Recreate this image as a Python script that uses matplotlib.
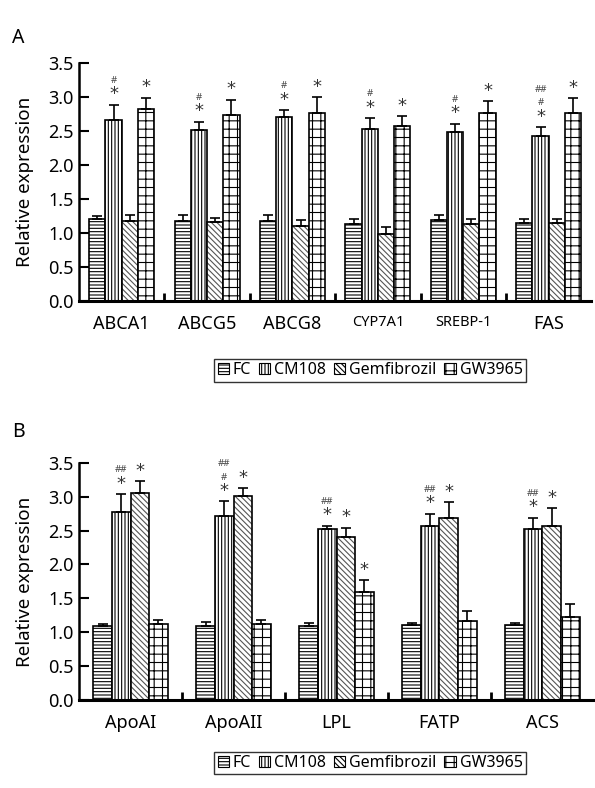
import matplotlib.pyplot as plt
import numpy as np

plt.rcParams['font.family'] = ['Noto Sans', 'DejaVu Sans']
plt.rcParams['hatch.linewidth'] = 0.8

groups = ['FC', 'CM108', 'Gemfibrozil', 'GW3965']
hatches = ['-----', '|||||', '\\\\\\\\\\\\', '++']
hatch_colors = ['black', 'black', '#555555', 'black']

# Panel A
genes_a = ['ABCA1', 'ABCG5', 'ABCG8', 'CYP7A1', 'SREBP-1', 'FAS']
vals_a = {
    'FC':          [1.21, 1.18, 1.18, 1.13, 1.19, 1.15],
    'CM108':       [2.66, 2.51, 2.70, 2.53, 2.49, 2.42],
    'Gemfibrozil': [1.18, 1.16, 1.11, 0.98, 1.14, 1.15],
    'GW3965':      [2.82, 2.74, 2.76, 2.57, 2.76, 2.76],
}
err_a = {
    'FC':          [0.04, 0.09, 0.09, 0.08, 0.08, 0.06],
    'CM108':       [0.23, 0.13, 0.11, 0.16, 0.12, 0.14],
    'Gemfibrozil': [0.09, 0.06, 0.08, 0.11, 0.07, 0.06],
    'GW3965':      [0.17, 0.22, 0.24, 0.15, 0.18, 0.22],
}
# (gene index, group, marks stacked from bottom)
marks_a = [
    (0, 'CM108', ['*', '#']), (0, 'GW3965', ['*']),
    (1, 'CM108', ['*', '#']), (1, 'GW3965', ['*']),
    (2, 'CM108', ['*', '#']), (2, 'GW3965', ['*']),
    (3, 'CM108', ['*', '#']), (3, 'GW3965', ['*']),
    (4, 'CM108', ['*', '#']), (4, 'GW3965', ['*']),
    (5, 'CM108', ['*', '#', '##']), (5, 'GW3965', ['*']),
]

# Panel B
genes_b = ['ApoAI', 'ApoAII', 'LPL', 'FATP', 'ACS']
vals_b = {
    'FC':          [1.09, 1.09, 1.09, 1.10, 1.10],
    'CM108':       [2.77, 2.71, 2.52, 2.57, 2.53],
    'Gemfibrozil': [3.05, 3.01, 2.40, 2.69, 2.57],
    'GW3965':      [1.12, 1.12, 1.59, 1.16, 1.22],
}
err_b = {
    'FC':          [0.03, 0.06, 0.05, 0.04, 0.04],
    'CM108':       [0.27, 0.22, 0.05, 0.18, 0.16],
    'Gemfibrozil': [0.18, 0.12, 0.14, 0.23, 0.26],
    'GW3965':      [0.06, 0.06, 0.18, 0.16, 0.20],
}
marks_b = [
    (0, 'CM108', ['*', '##']), (0, 'Gemfibrozil', ['*']),
    (1, 'CM108', ['*', '#', '##']), (1, 'Gemfibrozil', ['*']),
    (2, 'CM108', ['*', '##']), (2, 'Gemfibrozil', ['*']), (2, 'GW3965', ['*']),
    (3, 'CM108', ['*', '##']), (3, 'Gemfibrozil', ['*']),
    (4, 'CM108', ['*', '##']), (4, 'Gemfibrozil', ['*']),
]


def draw_panel(ax, genes, vals, errs, marks, width):
    x = np.arange(len(genes))
    handles = []
    for i, g in enumerate(groups):
        pos = x + (i - 1.5) * width
        # hatch layer (colour of hatch follows edgecolor), then black outline
        b = ax.bar(pos, vals[g], width, color='white', edgecolor=hatch_colors[i],
                   linewidth=0, hatch=hatches[i], label=g)
        ax.bar(pos, vals[g], width, fill=False, edgecolor='black', linewidth=1.2)
        ax.errorbar(pos, vals[g], yerr=[np.zeros(len(genes)), errs[g]],
                    fmt='none', ecolor='black', elinewidth=1.2, capsize=3.5,
                    capthick=1.2)
        handles.append(b)
    for gi, g, ms in marks:
        i = groups.index(g)
        px = gi + (i - 1.5) * width
        top = vals[g][gi] + errs[g][gi]
        y = top + 0.02
        for m in ms:
            if m == '*':
                ax.text(px, y, '*', ha='center', va='bottom', fontsize=13,
                        family='DejaVu Sans', color='#333333')
                y += 0.21
            else:
                ax.text(px, y + 0.06, m, ha='center', va='bottom', fontsize=7,
                        color='#444444')
                y += 0.2
    ax.set_xlim(-0.5, len(genes) - 0.5)
    ax.set_ylim(0, 3.5)
    ax.set_yticks(np.arange(0, 3.51, 0.5))
    ax.set_yticklabels([f'{v:.1f}' for v in np.arange(0, 3.51, 0.5)], fontsize=13)
    ax.set_xticks(x)
    ax.set_xticklabels(genes, fontsize=13)
    ax.set_xticks(np.arange(0.5, len(genes) - 0.5, 1), minor=True)
    ax.tick_params(axis='x', which='major', length=0, pad=10)
    ax.tick_params(axis='x', which='minor', direction='in', length=6, width=2)
    ax.tick_params(axis='y', direction='in', length=7, width=1.5, pad=4)
    ax.spines['top'].set_visible(False)
    ax.spines['right'].set_visible(False)
    ax.spines['left'].set_linewidth(1.8)
    ax.spines['bottom'].set_linewidth(2.2)
    ax.set_ylabel('Relative expression', fontsize=13.5, labelpad=10)
    return handles


fig = plt.figure(figsize=(5.95, 7.88), dpi=100)
ax1 = fig.add_axes([0.1328, 0.618, 0.861, 0.302])
ax2 = fig.add_axes([0.1328, 0.1117, 0.8655, 0.301])

h1 = draw_panel(ax1, genes_a, vals_a, err_a, marks_a, 0.19)
for lab in ax1.get_xticklabels():
    if lab.get_text() in ('CYP7A1', 'SREBP-1'):
        lab.set_fontsize(10.5)
h2 = draw_panel(ax2, genes_b, vals_b, err_b, marks_b, 0.18)

fig.text(0.02, 0.945, 'A', fontsize=14)
fig.text(0.02, 0.445, 'B', fontsize=14)

for h, y in ((h1, 0.53), (h2, 0.032)):
    leg = fig.legend(h, groups, loc='center', bbox_to_anchor=(0.622, y),
                     ncol=4, fontsize=11.5, frameon=True, fancybox=False,
                     edgecolor='black', handlelength=0.7, handleheight=0.7,
                     handletextpad=0.25, columnspacing=0.5, borderpad=0.2,
                     borderaxespad=0)
    leg.get_frame().set_linewidth(1.0)
    for p in leg.get_patches():
        p.set_linewidth(0.8)
        p.set_edgecolor('black')

plt.savefig('out.png', dpi=100)
